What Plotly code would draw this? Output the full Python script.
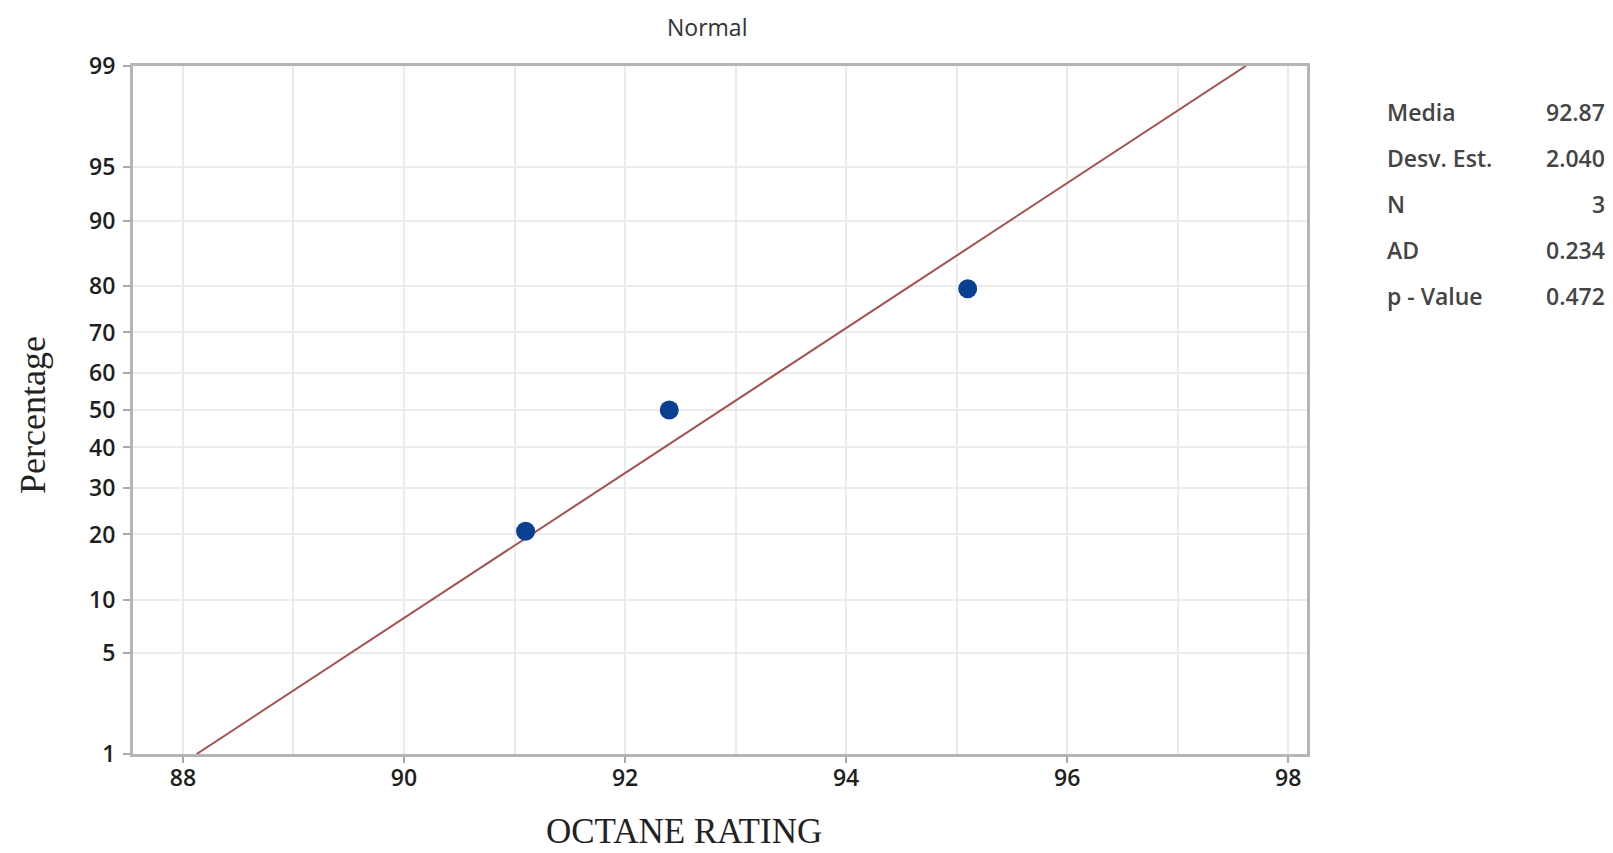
import plotly.graph_objects as go
from statistics import NormalDist

# Data
octane = [91.1, 92.4, 95.1]
percent = [20.6, 50.0, 79.4]
pct_ticks = [1, 5, 10, 20, 30, 40, 50, 60, 70, 80, 90, 95, 99]
x_ticks = [88, 90, 92, 94, 96, 98]
stat_labels = ["Media", "Desv. Est.", "N", "AD", "p - Value"]
stat_values = ["92.87", "2.040", "3", "0.234", "0.472"]
mean_val = 92.87
sd_val = 2.040

nd = NormalDist()
def probit(p):
    return nd.inv_cdf(p / 100.0)

z_pts = [probit(p) for p in percent]
z_ticks = [probit(p) for p in pct_ticks]
z_lo, z_hi = probit(1), probit(99)

fig = go.Figure()
fig.add_trace(go.Scatter(
    x=[mean_val + sd_val * z_lo, mean_val + sd_val * z_hi],
    y=[z_lo, z_hi], mode="lines",
    line=dict(color="#a4504f", width=2), hoverinfo="skip", showlegend=False))
fig.add_trace(go.Scatter(
    x=octane, y=z_pts, mode="markers",
    marker=dict(color="#0b3f91", size=19), showlegend=False))

OFF = 8  # default page body margin
PW, PH = 1613, 853
W, H = PW - OFF, PH - OFF
PL, PR, PT, PB = 133, 1307, 66, 754  # plot area in page pixels
L, T = PL - OFF, PT - OFF
pw, ph = PR - PL, PB - PT
R, B = W - L - pw, H - T - ph

def px(xp):
    return (xp - PL) / pw
def py(yp):
    return (PB - yp) / ph

sans = "Open Sans, DejaVu Sans, sans-serif"
serif = "Liberation Serif, Times New Roman, serif"
tick_font = dict(family=sans, size=23, color="#1e1e1e", weight=600)

fig.update_layout(
    width=W, height=H, margin=dict(l=L, r=R, t=T, b=B),
    paper_bgcolor="white", plot_bgcolor="white",
    xaxis=dict(range=[87.548, 98.17], tickvals=x_ticks, ticktext=[str(v) for v in x_ticks],
               tickfont=tick_font, ticks="outside", ticklen=6, tickwidth=2, tickcolor="#aaaaaa",
               showgrid=True, gridcolor="#ebebeb", gridwidth=2,
               minor=dict(dtick=1, tick0=88, showgrid=True, gridcolor="#ebebeb", gridwidth=2),
               showline=True, linecolor="#b5b5b5", linewidth=3, mirror=True,
               zeroline=False, ticklabelstandoff=-5),
    yaxis=dict(range=[z_lo, z_hi], tickvals=z_ticks, ticktext=[str(v) for v in pct_ticks],
               tickfont=tick_font, ticks="outside", ticklen=7, tickwidth=2, tickcolor="#aaaaaa",
               showgrid=True, gridcolor="#ebebeb", gridwidth=2,
               showline=True, linecolor="#b5b5b5", linewidth=3, mirror=True,
               zeroline=False, ticklabelstandoff=3),
)

ann = []
ann.append(dict(text="Normal", x=px(707), y=py(27), xref="paper", yref="paper",
                showarrow=False, xanchor="center", yanchor="middle",
                font=dict(family=sans, size=23, color="#333333")))
ann.append(dict(text="OCTANE RATING", x=px(684), y=py(831), xref="paper", yref="paper",
                showarrow=False, xanchor="center", yanchor="middle",
                font=dict(family=serif, size=35, color="#222222")))
ann.append(dict(text="Percentage", x=px(33), y=py(415), xref="paper", yref="paper",
                showarrow=False, xanchor="center", yanchor="middle", textangle=-90,
                font=dict(family=serif, size=36, color="#222222")))
row_y = [112, 158, 204, 250, 296]
for lab, val, yy in zip(stat_labels, stat_values, row_y):
    ann.append(dict(text=lab, x=px(1385), y=py(yy), xref="paper", yref="paper",
                    showarrow=False, xanchor="left", yanchor="middle",
                    font=dict(family=sans, size=23, color="#444444", weight=600)))
    ann.append(dict(text=val, x=px(1607), y=py(yy), xref="paper", yref="paper",
                    showarrow=False, xanchor="right", yanchor="middle",
                    font=dict(family=sans, size=23, color="#444444", weight=600)))
fig.update_layout(annotations=ann)

fig.write_html("out.html")
